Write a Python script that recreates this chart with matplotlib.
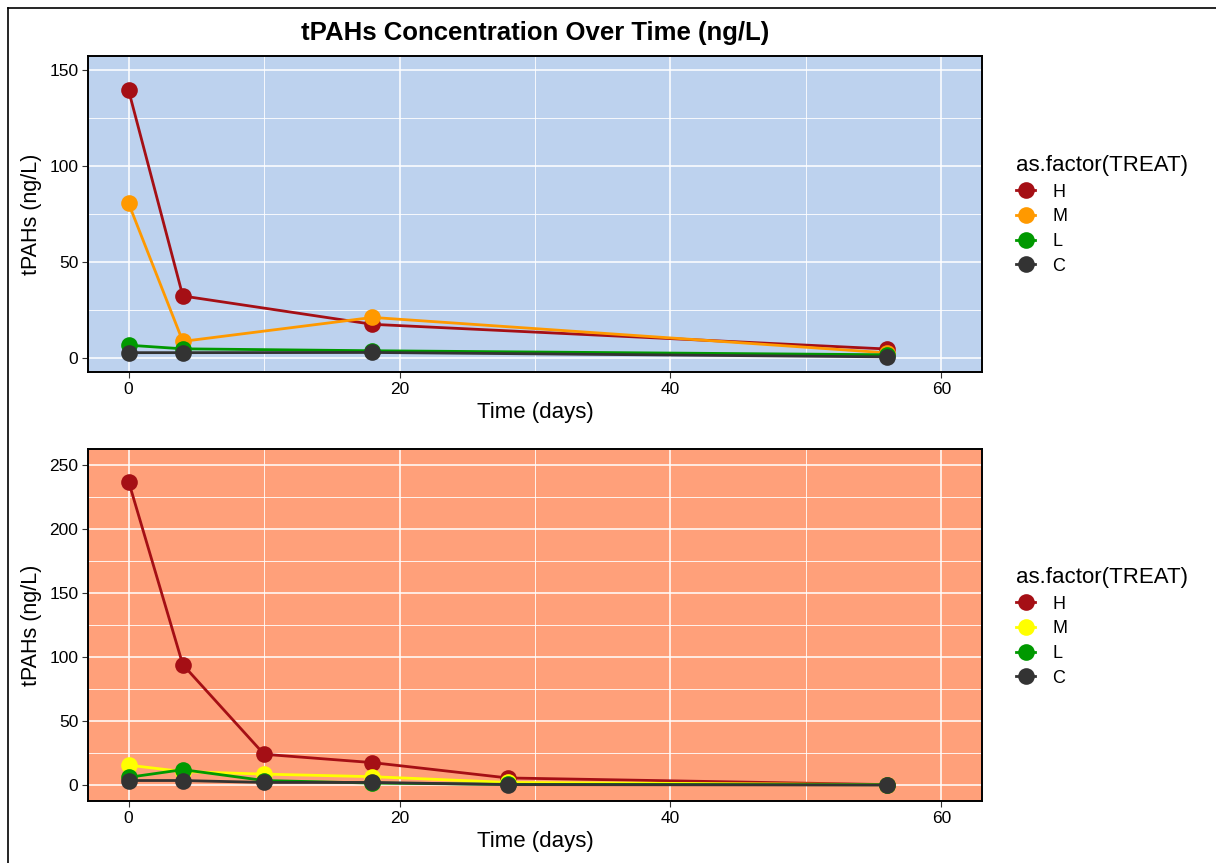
import matplotlib
matplotlib.use("Agg")
import matplotlib.pyplot as plt
from matplotlib.lines import Line2D
from matplotlib.ticker import MultipleLocator

plt.rcParams['font.family'] = ['Liberation Sans', 'DejaVu Sans']

treats = ["H", "M", "L", "C"]

# Top panel
days_top = [0, 4, 18, 56]
top_H = [139.5, 32.2, 17.4, 4.5]
top_M = [80.5, 8.5, 21.0, 2.5]
top_L = [6.5, 4.6, 3.6, 1.5]
top_C = [2.6, 2.6, 2.7, 0.4]
top_colors = ["#A50F15", "#FF9900", "#009900", "#333333"]

# Bottom panel
days_bot = [0, 4, 10, 18, 28, 56]
bot_H = [237.0, 94.0, 24.0, 17.5, 5.5, 0.3]
bot_M = [15.5, 10.5, 8.5, 6.5, 2.0, 0.3]
bot_L = [6.0, 12.0, 3.5, 1.5, 0.5, 0.2]
bot_C = [3.5, 3.5, 2.0, 2.0, 0.3, 0.0]
bot_colors = ["#A50F15", "#FFFF00", "#009900", "#333333"]

W, H = 1216, 863
fig = plt.figure(figsize=(W / 100, H / 100), dpi=100)

def px_axes(x0, y0, x1, y1):
    return fig.add_axes([x0 / W, 1 - y1 / H, (x1 - x0) / W, (y1 - y0) / H])

def style(ax, bg, ylim, ymaj, ymin):
    ax.set_facecolor(bg)
    ax.set_xlim(-3, 63)
    ax.set_ylim(*ylim)
    ax.xaxis.set_major_locator(MultipleLocator(20))
    ax.xaxis.set_minor_locator(MultipleLocator(10))
    ax.yaxis.set_major_locator(MultipleLocator(ymaj))
    ax.yaxis.set_minor_locator(MultipleLocator(ymin))
    ax.grid(which='major', color='white', linewidth=1.1)
    ax.grid(which='minor', color='white', linewidth=0.6)
    ax.set_axisbelow(True)
    ax.tick_params(which='minor', length=0)
    ax.tick_params(which='major', length=4, width=0.8, color='#333333',
                   labelsize=12.5, labelcolor='black', pad=3)
    for s in ax.spines.values():
        s.set_linewidth(1.4)
        s.set_color('black')
    ax.set_xlabel("Time (days)", fontsize=16, labelpad=4)
    ax.set_ylabel("tPAHs (ng/L)", fontsize=15.5, labelpad=5)

def draw(ax, days, series, colors):
    for vals, c in zip(series, colors):
        ax.plot(days, vals, color=c, linewidth=2.0, marker='o', markersize=12,
                markeredgewidth=0, zorder=3)

def legend(ax, colors, y_title):
    handles = [Line2D([], [], color=c, marker='o', markersize=12, markeredgewidth=0,
                      linewidth=2.0) for c in colors]
    leg = ax.legend(handles, treats, title="as.factor(TREAT)",
                    loc='upper left', bbox_to_anchor=(1009 / W, 1 - y_title / H),
                    bbox_transform=fig.transFigure, frameon=False, fontsize=13,
                    title_fontsize=16, handlelength=1.05, handletextpad=0.95,
                    labelspacing=0.42, alignment='left', borderaxespad=0)
    return leg

ax1 = px_axes(88, 56, 982, 372)
style(ax1, "#BDD2EE", (-7.5, 157.5), 50, 25)
draw(ax1, days_top, [top_H, top_M, top_L, top_C], top_colors)
legend(ax1, top_colors, 148)

ax2 = px_axes(88, 449, 982, 801)
style(ax2, "#FFA07A", (-12.5, 262.5), 50, 25)
draw(ax2, days_bot, [bot_H, bot_M, bot_L, bot_C], bot_colors)
legend(ax2, bot_colors, 560)

fig.text(535 / W, 1 - 33 / H, "tPAHs Concentration Over Time (ng/L)",
         ha='center', va='center', fontsize=18.5, fontweight='bold')

# outer frame lines (left and top)
fig.add_artist(Line2D([8 / W, 8 / W], [0, 1 - 8 / H], transform=fig.transFigure,
                      color='black', linewidth=1.2))
fig.add_artist(Line2D([8 / W, 1], [1 - 8 / H, 1 - 8 / H], transform=fig.transFigure,
                      color='black', linewidth=1.2))

fig.savefig("out.png", dpi=100, facecolor='white')
